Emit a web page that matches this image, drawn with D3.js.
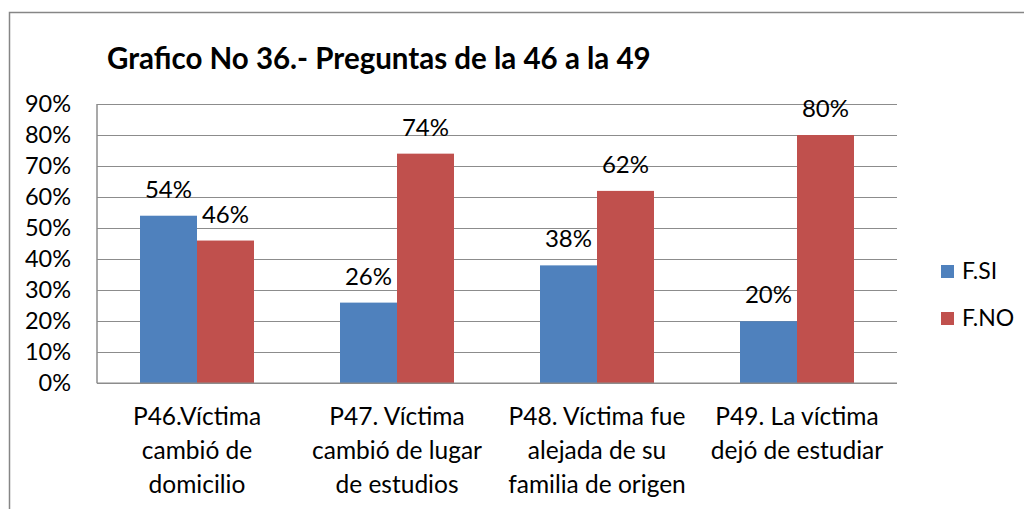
<!DOCTYPE html>
<html>
<head>
<meta charset="utf-8">
<script src="https://cdn.jsdelivr.net/npm/d3@7"></script>
<style>
  html, body { margin: 0; padding: 0; background: #fff; }
  svg { display: block; }
  text { font-family: Lato, "Open Sans", sans-serif; fill: #000; }
</style>
</head>
<body>
<svg id="chart" width="1024" height="509"></svg>
<script>
// Chart data
const categories = [
  "P46.Víctima\ncambió de\ndomicilio",
  "P47. Víctima\ncambió de lugar\nde estudios",
  "P48. Víctima fue\nalejada de su\nfamilia de origen",
  "P49. La víctima\ndejó de estudiar"
];
const seriesNames = ["F.SI", "F.NO"];
const siValues = [54, 26, 38, 20];
const noValues = [46, 74, 62, 80];
const yTicks = [0, 10, 20, 30, 40, 50, 60, 70, 80, 90];
const titleText = "Grafico No 36.- Preguntas de la 46 a la 49";

const colors = ["#4F81BD", "#C0504D"];
const series = [siValues, noValues];

const svg = d3.select("#chart");

// Outer chart frame
svg.append("rect")
  .attr("x", 9.5).attr("y", 12.5)
  .attr("width", 1040).attr("height", 520)
  .attr("fill", "#fff")
  .attr("stroke", "#868686").attr("stroke-width", 1.5);

const plot = { left: 97, right: 897, top: 104, bottom: 383.3 };

const y = d3.scaleLinear().domain([0, 90]).range([plot.bottom, plot.top]);
const x0 = d3.scaleBand().domain(d3.range(categories.length))
  .range([plot.left, plot.right]).paddingInner(0.43).paddingOuter(0.215);
const x1 = d3.scaleBand().domain(d3.range(series.length))
  .range([0, x0.bandwidth()]);

// Title
svg.append("text")
  .attr("x", 107).attr("y", 69)
  .attr("font-weight", "bold").attr("font-size", 29.5)
  .text(titleText);

// Horizontal gridlines
svg.append("g").selectAll("line").data(yTicks.filter(t => t > 0)).join("line")
  .attr("x1", plot.left).attr("x2", plot.right)
  .attr("y1", d => Math.round(y(d)) + 0.5).attr("y2", d => Math.round(y(d)) + 0.5)
  .attr("stroke", "#8c8c8c").attr("stroke-width", 1.2);

// Y axis
const yAxis = d3.axisLeft(y).tickValues(yTicks).tickFormat(d => d + "%").tickSize(0).tickPadding(26);
const gy = svg.append("g").attr("transform", `translate(${plot.left},0)`).call(yAxis);
gy.select(".domain").remove();
gy.selectAll("text").attr("font-size", 23.5).attr("font-family", "Lato, sans-serif").attr("fill", "#000");

// Bars
const groups = svg.append("g").selectAll("g").data(categories).join("g")
  .attr("transform", (d, i) => `translate(${x0(i)},0)`);

groups.selectAll("rect")
  .data((d, i) => series.map((s, k) => ({ k, v: s[i] })))
  .join("rect")
  .attr("x", d => x1(d.k))
  .attr("y", d => y(d.v))
  .attr("width", x1.bandwidth())
  .attr("height", d => y(0) - y(d.v))
  .attr("fill", d => colors[d.k]);

// Value labels
groups.selectAll("text.val")
  .data((d, i) => series.map((s, k) => ({ k, v: s[i] })))
  .join("text")
  .attr("class", "val")
  .attr("x", d => x1(d.k) + x1.bandwidth() / 2)
  .attr("y", d => y(d.v) - 18)
  .attr("text-anchor", "middle")
  .attr("font-size", 24)
  .text(d => d.v + "%");

// Axis lines (left and bottom)
svg.append("line")
  .attr("x1", plot.left).attr("x2", plot.left)
  .attr("y1", plot.top).attr("y2", plot.bottom)
  .attr("stroke", "#8c8c8c").attr("stroke-width", 1.5);
svg.append("line")
  .attr("x1", plot.left).attr("x2", plot.right)
  .attr("y1", plot.bottom).attr("y2", plot.bottom)
  .attr("stroke", "#8c8c8c").attr("stroke-width", 1.5);

// Category labels
const catLabels = svg.append("g").selectAll("text").data(categories).join("text")
  .attr("x", (d, i) => x0(i) + x0.bandwidth() / 2)
  .attr("y", 425)
  .attr("text-anchor", "middle")
  .attr("font-size", 24.5);
catLabels.selectAll("tspan").data(d => d.split("\n")).join("tspan")
  .attr("x", function () { return this.parentNode.getAttribute("x"); })
  .attr("dy", (d, j) => j === 0 ? 0 : 34)
  .text(d => d);

// Legend
const legend = svg.append("g").selectAll("g").data(seriesNames).join("g")
  .attr("transform", (d, i) => `translate(941,${265 + i * 47})`);
legend.append("rect").attr("width", 13).attr("height", 13).attr("fill", (d, i) => colors[i]);
legend.append("text").attr("x", 21).attr("y", 14).attr("font-size", 23).text(d => d);
</script>
</body>
</html>
